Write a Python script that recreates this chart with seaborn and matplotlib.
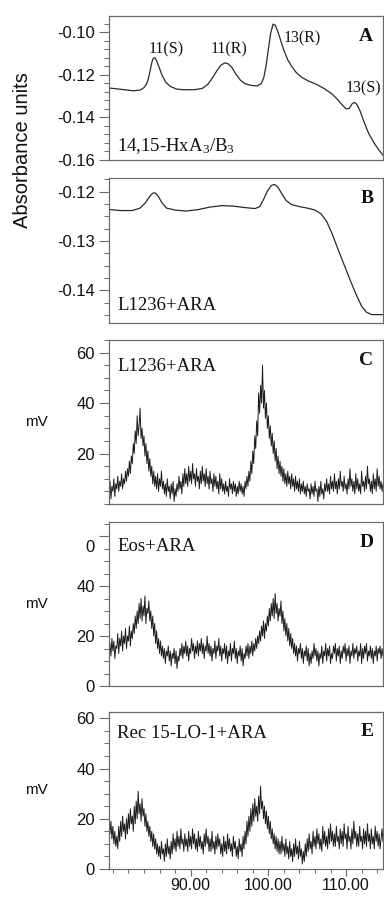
import numpy as np
import pandas as pd
import matplotlib
matplotlib.use("Agg")
import matplotlib.pyplot as plt
import matplotlib.transforms as mtransforms
from matplotlib.ticker import MultipleLocator, FixedLocator
import seaborn as sns

# ---------------- data ----------------
# Panel A: absorbance trace (time, absorbance)
a_time = [79.5, 81.0, 82.6, 83.5, 84.0, 84.3, 84.5, 84.8, 85.0, 85.2, 85.4, 85.6, 85.9, 86.3,
          86.8, 87.4, 88.2, 89.0, 90.5, 91.5, 92.2, 92.8, 93.4, 93.9, 94.4, 94.8, 95.3, 95.8,
          96.4, 97.0, 97.8, 98.6, 99.1, 99.4, 99.7, 100.0, 100.3, 100.6, 100.9, 101.2, 101.6,
          102.0, 102.5, 103.0, 103.6, 104.3, 105.2, 106.2, 107.2, 108.2, 109.0, 109.6, 110.0,
          110.4, 110.8, 111.1, 111.4, 111.8, 112.3, 112.9, 113.6, 114.2, 114.75]
a_abs = [-0.1262, -0.1268, -0.1275, -0.1272, -0.1260, -0.1245, -0.1227, -0.1180, -0.1143,
         -0.1122, -0.1120, -0.1132, -0.1160, -0.1200, -0.1235, -0.1255, -0.1267, -0.1270,
         -0.1270, -0.1264, -0.1245, -0.1215, -0.1180, -0.1155, -0.1144, -0.1148, -0.1165,
         -0.1195, -0.1225, -0.1242, -0.1250, -0.1252, -0.1240, -0.1215, -0.1160, -0.1080,
         -0.1005, -0.0962, -0.0968, -0.0995, -0.1040, -0.1085, -0.1130, -0.1160, -0.1190,
         -0.1212, -0.1230, -0.1245, -0.1265, -0.1290, -0.1320, -0.1345, -0.1360, -0.1358,
         -0.1335, -0.1330, -0.1340, -0.1370, -0.1420, -0.1475, -0.1520, -0.1552, -0.1578]
a_peak_labels = ["11(S)", "11(R)", "13(R)", "13(S)"]
a_peak_time = [86.9, 95.0, 104.4, 112.2]
a_peak_abs = [-0.1082, -0.1082, -0.1030, -0.1262]

# Panel B: absorbance trace
b_time = [79.5, 81.0, 82.5, 83.5, 84.2, 84.7, 85.1, 85.4, 85.8, 86.3, 86.9, 88.0, 89.4, 91.0,
          92.5, 94.0, 95.5, 97.0, 98.3, 98.9, 99.4, 99.9, 100.4, 100.8, 101.2, 101.7, 102.3,
          103.0, 104.0, 105.0, 106.0, 106.8, 107.5, 108.2, 109.0, 109.8, 110.6, 111.4, 112.0,
          112.6, 113.3, 114.75]
b_abs = [-0.1236, -0.1238, -0.1238, -0.1233, -0.1222, -0.1210, -0.1203, -0.1202, -0.1208,
         -0.1222, -0.1233, -0.1237, -0.1239, -0.1236, -0.1231, -0.1228, -0.1229, -0.1232,
         -0.1234, -0.1230, -0.1215, -0.1198, -0.1187, -0.1185, -0.1190, -0.1203, -0.1218,
         -0.1226, -0.1230, -0.1233, -0.1237, -0.1245, -0.1260, -0.1285, -0.1318, -0.1350,
         -0.1382, -0.1412, -0.1432, -0.1444, -0.1449, -0.1449]

# Panels C-E: radio detector traces sampled every 0.125 min from 79.5 min
mv_start = 79.5
mv_step = 0.125
c_mv = [4, 9, 2, 7, 5, 10, 3, 8,
        6, 11, 5, 9, 7, 12, 6, 10,
        8, 13, 9, 14, 11, 17, 12, 19,
        16, 24, 20, 29, 24, 35, 27, 31,
        38, 26, 30, 23, 27, 19, 24, 16,
        21, 13, 18, 11, 15, 8, 13, 7,
        11, 6, 12, 5, 10, 7, 13, 6,
        9, 4, 8, 3, 10, 5, 7, 2,
        8, 4, 9, 1, 6, 3, 8, 5,
        11, 6, 9, 4, 12, 7, 14, 8,
        12, 7, 15, 9, 13, 8, 16, 10,
        12, 7, 14, 9, 11, 6, 13, 8,
        15, 9, 12, 7, 14, 8, 11, 6,
        13, 8, 10, 5, 12, 7, 11, 6,
        9, 4, 12, 6, 10, 5, 8, 4,
        9, 5, 7, 3, 10, 6, 8, 4,
        9, 5, 8, 3, 7, 4, 9, 5,
        8, 4, 7, 3, 9, 6, 11, 7,
        13, 9, 17, 12, 21, 16, 27, 22,
        33, 27, 44, 36, 47, 40, 55, 38,
        45, 34, 40, 30, 35, 26, 31, 23,
        28, 20, 25, 17, 22, 14, 19, 12,
        17, 11, 15, 9, 14, 8, 12, 7,
        13, 8, 11, 6, 12, 7, 10, 5,
        11, 6, 9, 5, 10, 4, 8, 5,
        9, 4, 7, 3, 8, 5, 6, 2,
        8, 4, 7, 3, 9, 5, 6, 1,
        7, 3, 9, 4, 6, 2, 8, 5,
        10, 5, 8, 4, 11, 6, 9, 5,
        12, 6, 9, 4, 10, 6, 13, 7,
        9, 5, 11, 6, 8, 4, 10, 6,
        14, 7, 10, 5, 9, 4, 12, 6,
        10, 5, 8, 4, 13, 7, 9, 5,
        11, 6, 15, 8, 10, 5, 9, 4,
        12, 6, 10, 5, 14, 7, 11, 6,
        9, 5, 8]
d_mv = [10, 17, 12, 19, 14, 18, 11, 16,
        15, 21, 13, 19, 16, 22, 14, 20,
        17, 23, 15, 20, 18, 24, 16, 22,
        19, 25, 21, 28, 23, 30, 25, 33,
        27, 35, 26, 32, 28, 36, 25, 31,
        29, 34, 26, 30, 23, 28, 20, 25,
        17, 22, 15, 19, 13, 18, 12, 16,
        11, 15, 9, 14, 12, 16, 10, 14,
        8, 13, 11, 15, 9, 14, 7, 12,
        10, 15, 12, 17, 11, 16, 13, 18,
        12, 16, 10, 15, 13, 19, 14, 17,
        11, 16, 13, 18, 12, 17, 14, 19,
        13, 17, 11, 16, 14, 20, 13, 17,
        12, 16, 10, 15, 13, 18, 11, 16,
        14, 19, 12, 16, 10, 15, 13, 17,
        11, 16, 9, 14, 12, 17, 10, 15,
        13, 18, 11, 15, 9, 14, 12, 16,
        10, 15, 8, 13, 11, 16, 12, 17,
        11, 16, 13, 18, 12, 17, 14, 19,
        15, 20, 17, 22, 18, 24, 20, 26,
        19, 25, 22, 28, 24, 31, 26, 33,
        28, 35, 27, 37, 29, 33, 26, 31,
        28, 34, 25, 30, 22, 27, 20, 25,
        18, 23, 16, 21, 15, 19, 13, 17,
        12, 16, 10, 15, 13, 17, 11, 15,
        9, 14, 12, 16, 10, 15, 8, 13,
        9, 14, 11, 17, 12, 15, 10, 14,
        8, 13, 11, 16, 9, 14, 12, 17,
        10, 15, 12, 16, 9, 13, 11, 16,
        13, 17, 10, 15, 12, 16, 9, 14,
        11, 16, 13, 17, 10, 15, 12, 16,
        9, 14, 12, 17, 11, 15, 13, 16,
        10, 14, 12, 17, 9, 15, 11, 16,
        13, 17, 10, 14, 12, 16, 11, 15,
        9, 14, 12, 16, 10, 15, 13, 16,
        11, 15, 12]
e_mv = [21, 14, 19, 12, 17, 10, 15, 9,
        13, 8, 17, 11, 19, 13, 21, 15,
        18, 12, 20, 14, 22, 16, 24, 18,
        21, 15, 25, 18, 27, 20, 31, 22,
        26, 19, 28, 21, 24, 17, 22, 15,
        19, 13, 17, 11, 15, 9, 14, 8,
        12, 6, 10, 5, 9, 4, 11, 6,
        8, 3, 10, 5, 12, 6, 9, 4,
        11, 6, 14, 8, 12, 7, 15, 9,
        13, 8, 16, 10, 12, 7, 14, 9,
        12, 7, 15, 9, 13, 8, 16, 10,
        14, 8, 12, 7, 15, 9, 13, 8,
        11, 6, 14, 9, 16, 10, 13, 7,
        12, 7, 15, 8, 11, 6, 13, 8,
        14, 9, 12, 6, 10, 5, 13, 7,
        11, 6, 14, 8, 12, 7, 10, 5,
        13, 8, 11, 5, 9, 4, 12, 7,
        10, 5, 13, 8, 15, 10, 19, 13,
        21, 15, 24, 17, 26, 19, 28, 21,
        25, 19, 29, 22, 33, 24, 27, 20,
        25, 18, 23, 16, 21, 14, 19, 12,
        16, 10, 14, 8, 13, 7, 12, 6,
        11, 6, 13, 7, 10, 5, 12, 6,
        9, 4, 11, 5, 8, 3, 10, 5,
        12, 6, 9, 4, 11, 5, 8, 2,
        7, 3, 10, 5, 12, 7, 14, 8,
        11, 6, 15, 9, 13, 8, 16, 10,
        14, 8, 12, 7, 17, 10, 15, 9,
        13, 8, 16, 10, 18, 11, 15, 9,
        14, 9, 17, 11, 13, 8, 16, 10,
        15, 9, 18, 12, 14, 8, 17, 11,
        13, 8, 16, 10, 19, 12, 15, 9,
        14, 9, 17, 11, 13, 8, 16, 10,
        15, 9, 18, 11, 14, 8, 16, 10,
        13, 8, 17, 11, 15, 9, 14, 8,
        12, 16, 11]

panel_letters = ["A", "B", "C", "D", "E"]
panel_titles = ["14,15-HxA$_3$/B$_3$", "L1236+ARA", "L1236+ARA", "Eos+ARA", "Rec 15-LO-1+ARA"]
x_ticks = [90, 100, 110]
x_tick_labels = ["90.00", "100.00", "110.00"]

# ---------------- style ----------------
sns.set_theme(style="ticks")
plt.rcParams["font.family"] = ["Liberation Sans", "DejaVu Sans"]
plt.rcParams["mathtext.fontset"] = "custom"
plt.rcParams["mathtext.rm"] = "Liberation Serif"
plt.rcParams["mathtext.it"] = "Liberation Serif:italic"
plt.rcParams["mathtext.bf"] = "Liberation Serif:bold"

SERIF = ["Liberation Serif", "DejaVu Serif"]
SPINE = "#6a6a6a"
LINE = "#2a2a2a"
XLIM = (79.5, 114.75)
TICK_FS = 12

fig = plt.figure(figsize=(3.84, 8.98), dpi=100)
W, H = 384.0, 898.0
left_px, right_px = 109, 383
# (top, bottom) in pixels for each panel
boxes = [(16, 160), (178, 323), (340, 504), (522, 686), (712, 869)]
axes = []
for top, bot in boxes:
    ax = fig.add_axes([left_px / W, 1 - bot / H, (right_px - left_px) / W, (bot - top) / H])
    axes.append(ax)

def style_axis(ax):
    for s in ax.spines.values():
        s.set_color(SPINE)
        s.set_linewidth(0.9)
    ax.tick_params(axis="y", which="major", direction="out", length=7, width=0.8,
                   color=SPINE, labelsize=TICK_FS, pad=3, labelcolor="#111111")
    ax.tick_params(axis="y", which="minor", direction="out", length=3.5, width=0.7, color=SPINE)
    ax.set_xlim(*XLIM)
    ax.set_xlabel("")
    ax.set_ylabel("")

# Panel A
ax = axes[0]
sns.lineplot(x=a_time, y=a_abs, ax=ax, color=LINE, linewidth=0.9, estimator=None, sort=False)
ax.set_ylim(-0.16, -0.0924)
ax.yaxis.set_major_locator(FixedLocator([-0.16, -0.14, -0.12, -0.10]))
ax.yaxis.set_minor_locator(MultipleLocator(0.004))
ax.set_yticklabels(["-0.16", "-0.14", "-0.12", "-0.10"])
for lab, t, v in zip(a_peak_labels, a_peak_time, a_peak_abs):
    ax.text(t, v, lab, family=SERIF, fontsize=11.5, ha="center", va="center", color="#111111")

# Panel B
ax = axes[1]
sns.lineplot(x=b_time, y=b_abs, ax=ax, color=LINE, linewidth=0.9, estimator=None, sort=False)
ax.set_ylim(-0.1466, -0.1172)
ax.yaxis.set_major_locator(FixedLocator([-0.14, -0.13, -0.12]))
ax.yaxis.set_minor_locator(MultipleLocator(0.0025))
ax.set_yticklabels(["-0.14", "-0.13", "-0.12"])

# Panels C-E
mv_sets = [c_mv, d_mv, e_mv]
ylims = [(0, 65), (0, 65.6), (0, 62.5)]
for ax, vals, yl in zip(axes[2:], mv_sets, ylims):
    t = [mv_start + mv_step * i for i in range(len(vals))]
    df = pd.DataFrame({"time": t, "mV": vals})
    sns.lineplot(data=df, x="time", y="mV", ax=ax, color="#1e1e1e", linewidth=0.7,
                 estimator=None, sort=False)
    ax.set_ylim(*yl)
    ax.yaxis.set_minor_locator(MultipleLocator(5))

axes[2].yaxis.set_major_locator(FixedLocator([20, 40, 60]))
axes[2].set_yticklabels(["20", "40", "60"])
axes[3].yaxis.set_major_locator(FixedLocator([0, 20, 40, 60]))
axes[3].set_yticklabels(["0", "20", "40", "0"])
axes[4].yaxis.set_major_locator(FixedLocator([0, 20, 40, 60]))
axes[4].set_yticklabels(["0", "20", "40", "60"])

for ax in axes:
    style_axis(ax)

# D top label sits a bit lower than its tick
lbl = axes[3].get_yticklabels()[-1]
lbl.set_transform(lbl.get_transform() + mtransforms.ScaledTranslation(0, -10 / 100, fig.dpi_scale_trans))

# x axis only on bottom panel
for ax in axes[:-1]:
    ax.tick_params(axis="x", which="both", bottom=False, labelbottom=False)
axes[-1].xaxis.set_major_locator(FixedLocator(x_ticks))
axes[-1].set_xticklabels(x_tick_labels)
axes[-1].xaxis.set_minor_locator(MultipleLocator(2))
axes[-1].tick_params(axis="x", which="major", direction="out", length=5, width=0.8,
                     color=SPINE, labelsize=11.5, pad=1.5, labelcolor="#111111")
axes[-1].tick_params(axis="x", which="minor", direction="out", length=3, width=0.7, color=SPINE)

# panel letters and titles
title_pos = [(0.03, 0.10), (0.03, 0.12), (0.03, 0.84), (0.03, 0.85), (0.03, 0.86)]
for ax, letter, title, (tx, ty) in zip(axes, panel_letters, panel_titles, title_pos):
    ax.text(0.965, 0.86 if letter in "AB" else 0.875, letter, transform=ax.transAxes,
            family=SERIF, fontsize=14, fontweight="bold", ha="right", va="center",
            color="#111111")
    ax.text(tx, ty, title, transform=ax.transAxes, family=SERIF, fontsize=13.5,
            ha="left", va="center", color="#111111")

# axis labels
fig.text(23 / W, 1 - 150 / H, "Absorbance units", rotation=90, ha="center", va="center",
         fontsize=14.5, color="#111111")
for top, bot in boxes[2:]:
    fig.text(36 / W, 1 - ((top + bot) / 2) / H, "mV", ha="center", va="center",
             fontsize=11, color="#111111")

fig.savefig("out.png", dpi=100)
